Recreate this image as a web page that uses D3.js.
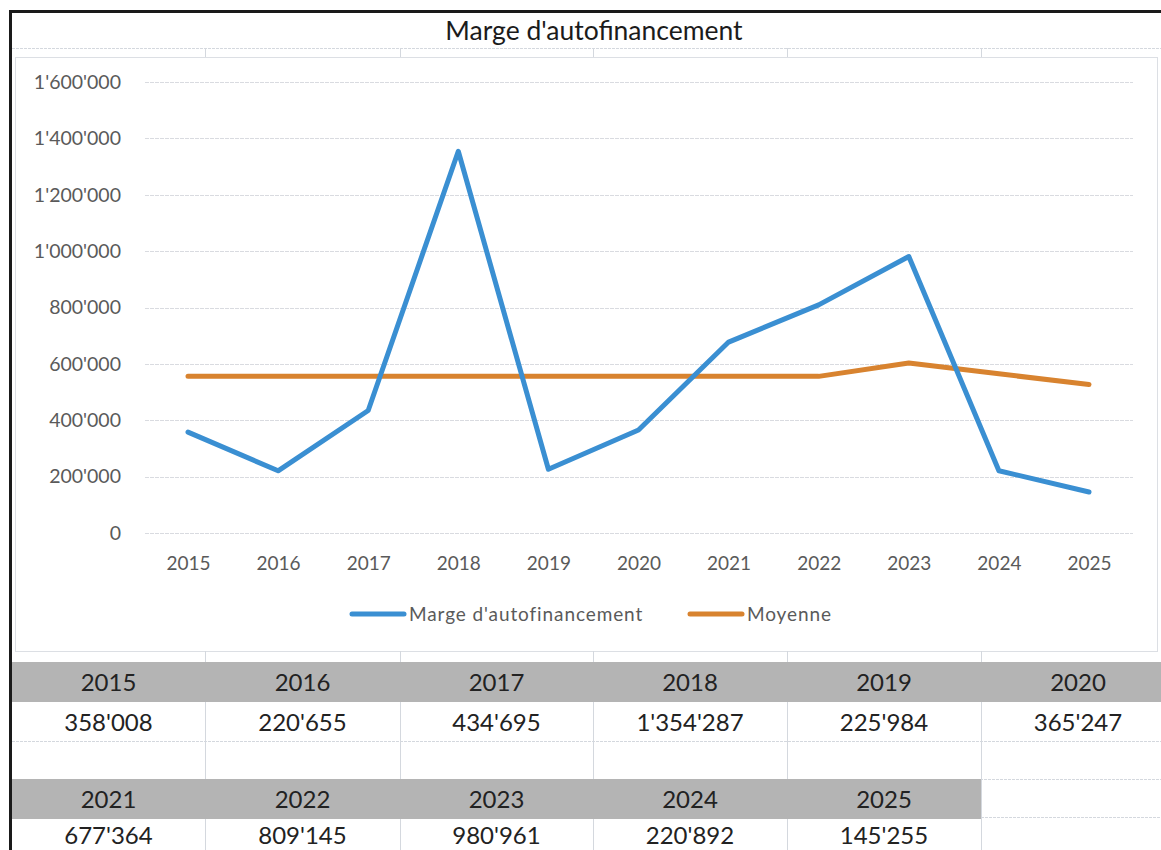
<!DOCTYPE html>
<html>
<head>
<meta charset="utf-8">
<script src="https://cdn.jsdelivr.net/npm/d3@7"></script>
<style>
  html, body { margin: 0; padding: 0; background: #fff; }
  svg { display: block; font-family: Lato, "Open Sans", sans-serif; }
</style>
</head>
<body>
<svg id="chart" width="1161" height="850"></svg>
<script>
// ---- data ----
const years = ["2015","2016","2017","2018","2019","2020","2021","2022","2023","2024","2025"];
const marge = [358008, 220655, 434695, 1354287, 225984, 365247, 677364, 809145, 980961, 220892, 145255];
const moyenne = [555673, 555673, 555673, 555673, 555673, 555673, 555673, 555673, 602927, 564724, 526590];
const yTicks = [0, 200000, 400000, 600000, 800000, 1000000, 1200000, 1400000, 1600000];
const title = "Marge d'autofinancement";
const seriesNames = ["Marge d'autofinancement", "Moyenne"];
const tableRow1 = years.slice(0, 6);
const tableRow2 = years.slice(6);

const blue = "#3a8fd2", orange = "#d8832f";
const loc = d3.formatLocale({decimal: ".", thousands: "'", grouping: [3], currency: ["", ""]});
const fmt = loc.format(",d");

const svg = d3.select("#chart");

// page / spreadsheet frame
const gridCol = "#d4d8de";
const colEdges = [12, 205, 400, 593, 787, 981, 1175];

// spreadsheet row line under title
svg.append("line").attr("x1", 12).attr("x2", 1161).attr("y1", 48.5).attr("y2", 48.5)
  .attr("stroke", gridCol).attr("stroke-width", 1).attr("stroke-dasharray", "3,1");
colEdges.slice(1, 6).forEach(x => {
  svg.append("line").attr("x1", x + 0.5).attr("x2", x + 0.5).attr("y1", 48).attr("y2", 57)
    .attr("stroke", gridCol);
});

// chart box
svg.append("rect").attr("x", 15.5).attr("y", 57.5).attr("width", 1142).attr("height", 594)
  .attr("fill", "#fff").attr("stroke", "#dcdfe4").attr("stroke-width", 1);

// title
svg.append("text").attr("x", 594).attr("y", 40).attr("text-anchor", "middle")
  .attr("font-size", 26.5).attr("fill", "#1b1b1b").text(title);

// scales
const x = d3.scalePoint().domain(years).range([188, 1089]);
const y = d3.scaleLinear().domain([0, 1600000]).range([533, 82]);

// gridlines
svg.append("g").selectAll("line").data(yTicks).join("line")
  .attr("x1", 145).attr("x2", 1133)
  .attr("y1", d => Math.round(y(d)) + 0.5).attr("y2", d => Math.round(y(d)) + 0.5)
  .attr("stroke", "#d9dbe0").attr("stroke-width", 1).attr("stroke-dasharray", "4,1");

// y axis (labels only)
const yAxis = d3.axisLeft(y).tickValues(yTicks).tickSize(0).tickPadding(0)
  .tickFormat(d => fmt(d));
const gy = svg.append("g").attr("transform", "translate(121,0)").call(yAxis);
gy.select(".domain").remove();
gy.selectAll("text").attr("font-size", 19.5).attr("fill", "#5a5a5a")
  .attr("font-family", "Lato, 'Open Sans', sans-serif");

// x axis (labels only)
const xAxis = d3.axisBottom(x).tickSize(0).tickPadding(0);
const gx = svg.append("g").attr("transform", "translate(0,556)").call(xAxis);
gx.select(".domain").remove();
gx.selectAll("text").attr("font-size", 19).attr("fill", "#5a5a5a")
  .attr("font-family", "Lato, 'Open Sans', sans-serif");

// lines
const line = d3.line().x((d, i) => x(years[i])).y(d => y(d));
svg.append("path").datum(moyenne).attr("d", line).attr("fill", "none")
  .attr("stroke", orange).attr("stroke-width", 5).attr("stroke-linecap", "round").attr("stroke-linejoin", "round");
svg.append("path").datum(marge).attr("d", line).attr("fill", "none")
  .attr("stroke", blue).attr("stroke-width", 5).attr("stroke-linecap", "round").attr("stroke-linejoin", "round");

// legend
const legend = [{name: seriesNames[0], color: blue, x: 352}, {name: seriesNames[1], color: orange, x: 690}];
const lg = svg.append("g").selectAll("g").data(legend).join("g")
  .attr("transform", d => `translate(${d.x},614)`);
lg.append("line").attr("x1", 0).attr("x2", 52).attr("y1", 0).attr("y2", 0)
  .attr("stroke", d => d.color).attr("stroke-width", 5).attr("stroke-linecap", "round");
lg.append("text").attr("x", 57).attr("y", 7).attr("font-size", 19).attr("letter-spacing", 0.9)
  .attr("fill", "#5a5a5a").text(d => d.name);

// ---- table ----
const colX = i => colEdges[i];
const colW = i => colEdges[i + 1] - colEdges[i];
const tbl = svg.append("g");

// gridlines in table area
[741.5, 779.5].forEach(yy => {
  tbl.append("line").attr("x1", 12).attr("x2", 1161).attr("y1", yy).attr("y2", yy)
    .attr("stroke", gridCol).attr("stroke-dasharray", "3,1");
});
tbl.append("line").attr("x1", 981).attr("x2", 1161).attr("y1", 817.5).attr("y2", 817.5)
  .attr("stroke", gridCol).attr("stroke-dasharray", "3,1");
colEdges.slice(1, 6).forEach(xx => {
  tbl.append("line").attr("x1", xx + 0.5).attr("x2", xx + 0.5).attr("y1", 651).attr("y2", 850)
    .attr("stroke", gridCol);
});

function tableBlock(yrs, top, valOffset) {
  const n = yrs.length;
  const endX = colEdges[n];
  tbl.append("rect").attr("x", 12).attr("y", top).attr("width", Math.min(endX, 1161) - 12).attr("height", 40)
    .attr("fill", "#b4b4b4");
  yrs.forEach((yr, i) => {
    const cx = colX(i) + colW(i) / 2;
    const idx = years.indexOf(yr);
    tbl.append("text").attr("x", cx).attr("y", top + 29).attr("text-anchor", "middle")
      .attr("font-size", 24).attr("fill", "#222").text(yr);
    tbl.append("text").attr("x", cx).attr("y", top + valOffset).attr("text-anchor", "middle")
      .attr("font-size", 24).attr("fill", "#222").text(fmt(marge[idx]));
  });
}
tableBlock(tableRow1, 662, 69);
tableBlock(tableRow2, 779, 65);

// black page borders
svg.append("line").attr("x1", 9).attr("x2", 1161).attr("y1", 11.5).attr("y2", 11.5)
  .attr("stroke", "#1a1a1a").attr("stroke-width", 3);
svg.append("line").attr("x1", 10.5).attr("x2", 10.5).attr("y1", 10).attr("y2", 850)
  .attr("stroke", "#1a1a1a").attr("stroke-width", 3);
</script>
</body>
</html>
